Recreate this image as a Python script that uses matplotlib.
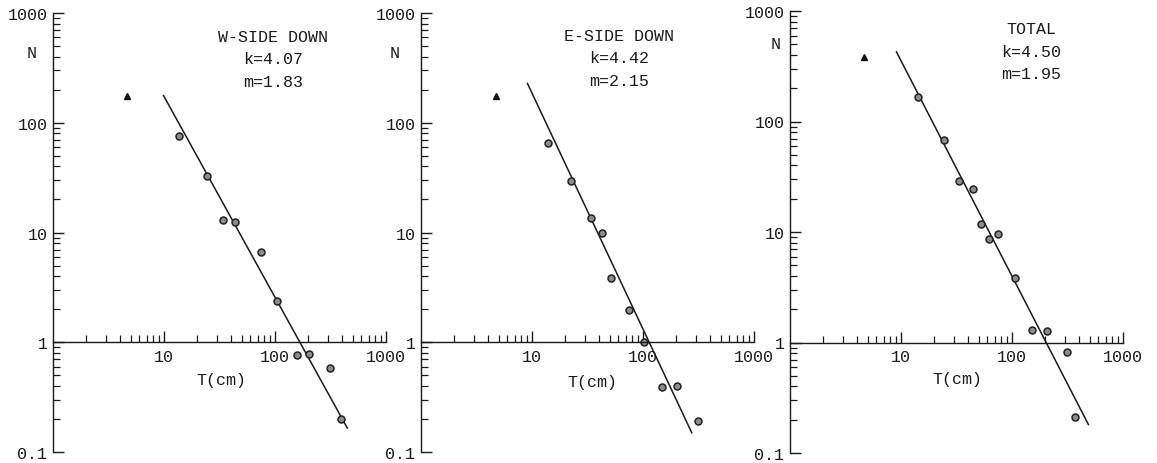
import numpy as np
import matplotlib
matplotlib.use("Agg")
import matplotlib.pyplot as plt
from matplotlib.ticker import FixedLocator, NullFormatter, FixedFormatter

plt.rcParams['font.family'] = ['Liberation Mono', 'DejaVu Sans Mono']

# ---- data -------------------------------------------------------------
titles = ["W-SIDE DOWN", "E-SIDE DOWN", "TOTAL"]
k_vals = [4.07, 4.42, 4.50]
m_vals = [1.83, 2.15, 1.95]

# throw (cm) and number of faults, per group
w_T = [13.7, 24.5, 33.8, 43.6, 74.8, 103.5, 157, 204, 313, 393]
w_N = [76, 32.5, 13.1, 12.5, 6.7, 2.4, 0.76, 0.78, 0.58, 0.20]
e_T = [14.0, 22.3, 33.8, 43, 52, 75, 103, 147, 201, 311]
e_N = [65, 29.3, 13.6, 9.9, 3.85, 1.95, 1.0, 0.39, 0.40, 0.19]
t_T = [14.3, 24.6, 33.3, 44.3, 52.2, 62, 74.3, 106, 152, 205, 311, 370]
t_N = [165, 67.6, 28.9, 24.4, 11.8, 8.6, 9.6, 3.8, 1.3, 1.27, 0.82, 0.21]

# small-throw counts (triangles)
tri_T = [4.6, 4.7, 4.6]
tri_N = [175, 175, 380]

# extent of the fitted lines along T
fit_T0 = [9.9, 9.1, 9.1]
fit_T1 = [448, 275, 488]

series_T = [w_T, e_T, t_T]
series_N = [w_N, e_N, t_N]

x_major = [10, 100, 1000]
x_major_labels = ["10", "100", "1000"]
y_major = [0.1, 1, 10, 100, 1000]
y_major_labels = ["0.1", "1", "10", "100", "1000"]

# ---- layout -----------------------------------------------------------
W, H = 1157, 464
fig = plt.figure(figsize=(W / 100, H / 100), dpi=100)

# (left px, top px of 1000, bottom px of 0.1)
panel_px = [(53, 14, 453), (421, 14, 453), (790, 12, 454)]
ax_w = 333

# label placements: (N-label x in axes frac, N-label y), (T label x, y), (text x, y)
n_lab = [(-0.063, 433), (-0.078, 433), (-0.042, 510)]
t_lab = [(33, 0.46), (35, 0.44), (32.5, 0.47)]
txt_pos = [(96, 382), (60.8, 390), (148, 433)]

ink = "#1a1a1a"
minor_vals = [d * m for d in (0.1, 1, 10, 100) for m in range(2, 10)]
x_minor = [d * m for d in (1, 10, 100) for m in range(2, 10)]

for i in range(3):
    lpx, tpx, bpx = panel_px[i]
    ax = fig.add_axes([lpx / W, (H - bpx) / H, ax_w / W, (bpx - tpx) / H])
    ax.set_xscale('log')
    ax.set_yscale('log')
    ax.set_xlim(1, 1000)
    ax.set_ylim(0.1, 1000)
    ax.patch.set_visible(False)

    for s in ('top', 'right'):
        ax.spines[s].set_visible(False)
    ax.spines['bottom'].set_position(('data', 1))
    for s in ('bottom', 'left'):
        ax.spines[s].set_color(ink)
        ax.spines[s].set_linewidth(1.0)

    ax.xaxis.set_major_locator(FixedLocator(x_major))
    ax.xaxis.set_major_formatter(FixedFormatter(x_major_labels))
    ax.xaxis.set_minor_locator(FixedLocator(x_minor))
    ax.xaxis.set_minor_formatter(NullFormatter())
    ax.yaxis.set_major_locator(FixedLocator(y_major))
    ax.yaxis.set_major_formatter(FixedFormatter(y_major_labels))
    ax.yaxis.set_minor_locator(FixedLocator(minor_vals))
    ax.yaxis.set_minor_formatter(NullFormatter())

    ax.tick_params(which='major', direction='in', length=8, width=1.0,
                   color=ink, labelcolor=ink, labelsize=12)
    ax.tick_params(which='minor', direction='in', length=5, width=0.9, color=ink)
    ax.tick_params(axis='x', which='major', pad=5)
    ax.tick_params(axis='y', which='major', pad=4)

    # fitted relation log N = k - m log T
    Tl = np.array([fit_T0[i], fit_T1[i]])
    Nl = 10 ** (k_vals[i] - m_vals[i] * np.log10(Tl))
    ax.plot(Tl, Nl, color=ink, lw=1.1, clip_on=False)

    ax.plot(series_T[i], series_N[i], linestyle='none', marker='o',
            markersize=5, markerfacecolor='#8c8c8c', markeredgecolor='#222222',
            markeredgewidth=1.1, clip_on=False)
    ax.plot([tri_T[i]], [tri_N[i]], linestyle='none', marker='^',
            markersize=5, color='#111111', clip_on=False)

    ax.text(n_lab[i][0], n_lab[i][1], "N", transform=ax.get_yaxis_transform(),
            ha='center', va='center', fontsize=12, color=ink)
    ax.text(t_lab[i][0], t_lab[i][1], "T(cm)", ha='center', va='center',
            fontsize=12, color=ink)
    ax.text(txt_pos[i][0], txt_pos[i][1],
            f"{titles[i]}\nk={k_vals[i]:.2f}\nm={m_vals[i]:.2f}",
            ha='center', va='center', multialignment='center',
            linespacing=1.6, fontsize=12, color=ink)

fig.savefig("out.png", dpi=100)
